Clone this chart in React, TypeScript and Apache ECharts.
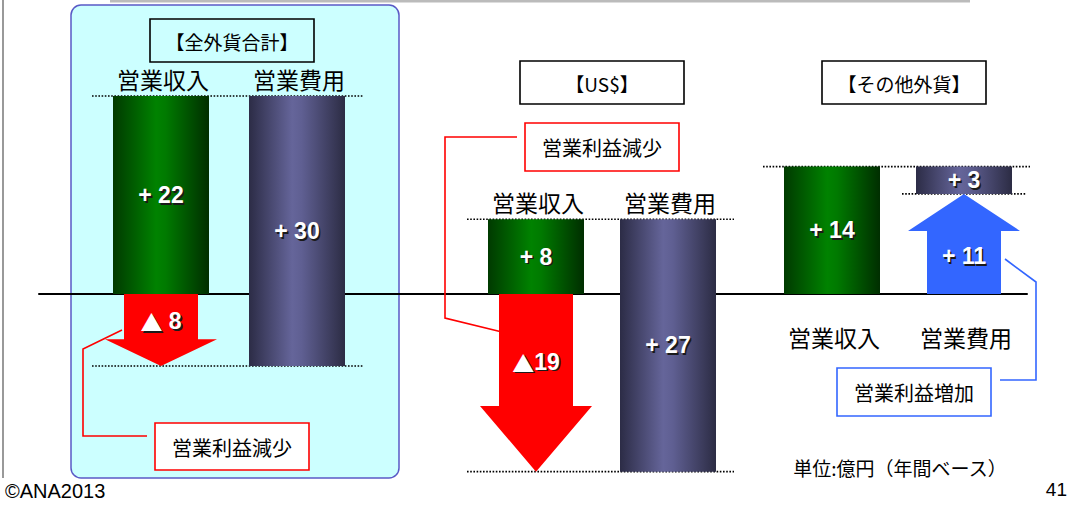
import React, { useEffect, useRef } from "react";
import * as echarts from "echarts";

// ---- data ----
const groupTitles = ["【全外貨合計】", "【US$】", "【その他外貨】"];
const categories = ["営業収入", "営業費用"];
const revenue = [22, 8, 14];
const expense = [30, 27, 3];
const profitChange = [-8, -19, 11];
const revenueLabels = ["+ 22", "+ 8", "+ 14"];
const expenseLabels = ["+ 30", "+ 27", "+ 3"];
const profitLabels = ["▲ 8", "▲19", "+ 11"];
const calloutTexts = ["営業利益減少", "営業利益減少", "営業利益増加"];
const unitNote = "単位:億円（年間ベース）";
const copyright = "©ANA2013";
const pageNo = "41";

// ---- layout / style ----
const GRID_TOP = 15;
const GRID_HEIGHT = 465;
const ZERO_Y = 294;
// pixels per unit for each panel (zero line shared at ZERO_Y)
const groupScale = [9.0, 9.35, 9.1];
const groupGrids = [
  { left: 93, width: 272 },
  { left: 470, width: 264 },
  { left: 766, width: 264 },
];
const catLabelBelow = [false, false, true];
const FONT_JP = '"Noto Sans CJK JP", "Noto Sans CJK SC", sans-serif';
const FONT_NUM = '"Liberation Sans", Arial, "DejaVu Sans", sans-serif';
const BAR_W = 96;

function yRange(s: number) {
  const max = (ZERO_Y - GRID_TOP) / s;
  const min = max - GRID_HEIGHT / s;
  return { min, max };
}

const greenFill = {
  type: "linear", x: 0, y: 0, x2: 1, y2: 0,
  colorStops: [
    { offset: 0, color: "#003a00" },
    { offset: 0.45, color: "#008200" },
    { offset: 0.55, color: "#007a00" },
    { offset: 1, color: "#002e00" },
  ],
};
const purpleFill = {
  type: "linear", x: 0, y: 0, x2: 1, y2: 0,
  colorStops: [
    { offset: 0, color: "#2c2c46" },
    { offset: 0.45, color: "#65659a" },
    { offset: 0.55, color: "#5f5f92" },
    { offset: 1, color: "#2c2c44" },
  ],
};

function numTextEls(text: string, x: number, y: number) {
  const hasTri = text.indexOf("▲") === 0;
  const body = hasTri ? "{t|▲}{n|" + text.slice(1) + "}" : text;
  const mk = (fill: string, dx: number, dy: number) => ({
    type: "text",
    style: {
      text: body, x: x + dx, y: y + dy,
      fill,
      fontSize: 23,
      fontWeight: "bold",
      fontFamily: FONT_NUM,
      align: "center",
      verticalAlign: "middle",
      rich: hasTri
        ? {
            t: { fill, fontSize: 22, fontFamily: FONT_JP, fontWeight: "bold" },
            n: { fill, fontSize: 23, fontFamily: FONT_NUM, fontWeight: "bold" },
          }
        : undefined,
    },
  });
  return [mk("#1a1a1a", 1.6, 1.6), mk("#ffffff", 0, 0)];
}

function makeRender(g: number) {
  return function (params: any, api: any) {
    const i = params.dataIndex;
    const cat = api.value(0);
    const lo = api.value(1);
    const hi = api.value(2);
    const cx = api.coord([cat, 0])[0];
    const yZero = api.coord([cat, 0])[1];
    const yLo = api.coord([cat, lo])[1];
    const yHi = api.coord([cat, hi])[1];
    const c0 = api.coord([0, 0])[0];
    const c1 = api.coord([1, 0])[0];
    const children: any[] = [];
    if (i === 0 || i === 1) {
      const top = Math.min(yLo, yHi);
      const bottom = Math.max(yLo, yHi);
      if (i === 0) {
        const yTopGuide = api.coord([0, revenue[g]])[1];
        const yBotGuide = api.coord([1, revenue[g] - expense[g]])[1];
        const dash = { stroke: "#000", lineWidth: 1.6, lineDash: [1.6, 1.6] };
        children.push({
          type: "line",
          shape: { x1: c0 - 69, y1: yTopGuide, x2: c1 + 66, y2: yTopGuide },
          style: dash,
        });
        const up = profitChange[g] > 0;
        children.push({
          type: "line",
          shape: up
            ? { x1: c1 - 62, y1: yBotGuide, x2: c1 + 62, y2: yBotGuide }
            : { x1: c0 - 69, y1: yBotGuide, x2: c1 + 66, y2: yBotGuide },
          style: dash,
        });
        const ly = catLabelBelow[g] ? yZero + 43 : yTopGuide - 17;
        [c0, c1].forEach((x, k) => {
          children.push({
            type: "text",
            style: {
              text: categories[k], x: x + 2, y: ly,
              fill: "#000", fontSize: 23, fontFamily: FONT_JP,
              align: "center", verticalAlign: "middle",
            },
          });
        });
      }
      children.push({
        type: "rect",
        shape: { x: cx - BAR_W / 2, y: top, width: BAR_W, height: bottom - top },
        style: { fill: i === 0 ? greenFill : purpleFill },
      });
      numTextEls(i === 0 ? revenueLabels[g] : expenseLabels[g], cx, (top + bottom) / 2)
        .forEach((t) => children.push(t));
    } else {
      const len = yHi - yLo;
      const ys = yLo + len * 0.63;
      const sw = 37, hw = 56;
      const color = profitChange[g] < 0 ? "#ff0000" : "#3366ff";
      children.push({
        type: "polygon",
        shape: {
          points: [
            [cx - sw, yLo], [cx + sw, yLo], [cx + sw, ys], [cx + hw, ys],
            [cx, yHi], [cx - hw, ys], [cx - sw, ys],
          ],
        },
        style: { fill: color },
      });
      numTextEls(profitLabels[g], cx, yLo + len * 0.38).forEach((t) => children.push(t));
    }
    return { type: "group", children };
  };
}

function buildOption() {
  const r0 = yRange(9.3);
  const grids: any[] = [{ left: 39, width: 988, top: GRID_TOP, height: GRID_HEIGHT }];
  const xAxes: any[] = [{
    gridIndex: 0, type: "category", data: [""],
    axisLine: { show: true, onZero: true, lineStyle: { color: "#000", width: 2 } },
    axisTick: { show: false }, axisLabel: { show: false }, splitLine: { show: false },
  }];
  const yAxes: any[] = [{ gridIndex: 0, type: "value", min: r0.min, max: r0.max, show: false }];
  const series: any[] = [];
  groupGrids.forEach((gr, g) => {
    const r = yRange(groupScale[g]);
    grids.push({ left: gr.left, width: gr.width, top: GRID_TOP, height: GRID_HEIGHT });
    xAxes.push({ gridIndex: g + 1, type: "category", data: categories, show: false });
    yAxes.push({ gridIndex: g + 1, type: "value", min: r.min, max: r.max, show: false });
    const arrowCat = profitChange[g] < 0 ? 0 : 1;
    series.push({
      type: "custom",
      xAxisIndex: g + 1,
      yAxisIndex: g + 1,
      z: 5,
      renderItem: makeRender(g),
      data: [
        [0, 0, revenue[g]],
        [1, revenue[g] - expense[g], revenue[g]],
        [arrowCat, 0, profitChange[g]],
      ],
      silent: true,
    });
  });

  const boxText = (text: string, x: number, y: number, size: number) => ({
    type: "text", x, y, z: 20,
    style: { text, fill: "#000", fontSize: size, fontFamily: FONT_JP, align: "center", verticalAlign: "middle" },
  });
  const rect = (x: number, y: number, w: number, h: number, stroke: string, fill: string) => ({
    type: "rect", z: 19,
    shape: { x, y, width: w, height: h },
    style: { fill, stroke, lineWidth: 1.6 },
  });
  const poly = (pts: number[][], color: string) => ({
    type: "polyline", z: 18, shape: { points: pts },
    style: { stroke: color, lineWidth: 1.6, fill: null },
  });

  const graphic: any[] = [
    { type: "line", z: 1, shape: { x1: 3, y1: 0, x2: 3, y2: 478 }, style: { stroke: "#777", lineWidth: 1.5 } },
    { type: "line", z: 1, shape: { x1: 110, y1: 1, x2: 970, y2: 1 }, style: { stroke: "#bbb", lineWidth: 3 } },
    {
      type: "rect", z: 0,
      shape: { x: 71, y: 5, width: 328, height: 473, r: 10 },
      style: { fill: "#ccffff", stroke: "#5a5ac6", lineWidth: 1.5 },
    },
    rect(150, 19, 164, 43, "#000", "transparent"),
    boxText(groupTitles[0], 232, 41, 19),
    rect(520, 61, 164, 43, "#000", "#fff"),
    boxText(groupTitles[1], 602, 83, 19),
    rect(822, 61, 164, 43, "#000", "#fff"),
    boxText(groupTitles[2], 904, 83, 19),

    poly([[147, 436], [83, 436], [83, 349], [122, 330]], "#ff0000"),
    rect(155, 423, 154, 47, "#ff0000", "#fff"),
    boxText(calloutTexts[0], 232, 447, 20),

    poly([[517, 137], [445, 137], [445, 318], [502, 332]], "#ff0000"),
    rect(525, 123, 154, 48, "#ff0000", "#fff"),
    boxText(calloutTexts[1], 602, 147, 20),

    poly([[1005, 259], [1036, 282], [1036, 380], [1000, 380]], "#3366ff"),
    rect(837, 368, 154, 48, "#3366ff", "#fff"),
    boxText(calloutTexts[2], 914, 392, 20),

    boxText(unitNote, 900, 467, 19),
    {
      type: "text", x: 5, y: 491, z: 20,
      style: { text: copyright, fill: "#000", fontSize: 20, fontFamily: FONT_NUM, align: "left", verticalAlign: "middle" },
    },
    {
      type: "text", x: 1067, y: 489, z: 20,
      style: { text: pageNo, fill: "#000", fontSize: 19, fontFamily: FONT_NUM, align: "right", verticalAlign: "middle" },
    },
  ];

  return {
    animation: false,
    backgroundColor: "#ffffff",
    grid: grids,
    xAxis: xAxes,
    yAxis: yAxes,
    series,
    graphic: { elements: graphic },
  };
}

export default function App() {
  const ref = useRef<HTMLDivElement | null>(null);
  useEffect(() => {
    if (!ref.current) return;
    const chart = echarts.init(ref.current, undefined, { renderer: "svg" });
    chart.setOption(buildOption() as any);
    return () => chart.dispose();
  }, []);
  return (
    <div
      ref={ref}
      style={{ position: "absolute", left: 0, top: 0, width: 1068, height: 506, background: "#fff" }}
    />
  );
}
